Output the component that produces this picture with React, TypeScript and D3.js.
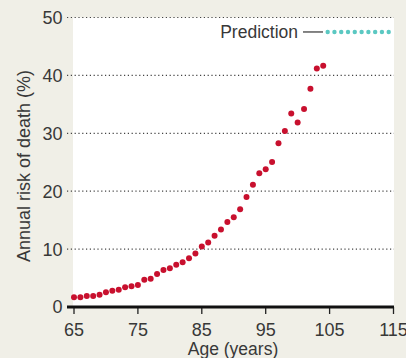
import React from "react";
import * as d3 from "d3";

const ages = [65,66,67,68,69,70,71,72,73,74,75,76,77,78,79,80,81,82,83,84,85,86,87,88,89,90,91,92,93,94,95,96,97,98,99,100,101,102,103,104];
const risk = [1.7,1.7,1.9,1.9,2.1,2.55,2.8,3.0,3.4,3.6,3.8,4.7,4.9,5.7,6.4,6.7,7.3,7.75,8.4,9.25,10.45,11.15,12.3,13.4,14.7,15.5,16.9,19.0,21.1,23.1,23.8,25.05,28.3,30.4,33.4,31.85,34.2,37.7,41.2,41.65];
const predictionAges = [104.7,105.76,106.82,107.88,108.94,110.01,111.07,112.13,113.19,114.25];
const predictionRisk = [47.5,47.5,47.5,47.5,47.5,47.5,47.5,47.5,47.5,47.5];
const xTicks = [65,75,85,95,105,115];
const yTicks = [0,10,20,30,40,50];

const W = 406, H = 358;
const font = "'Liberation Sans', Arial, sans-serif";
const textColor = "#383838";

export default function App() {
  const x = d3.scaleLinear().domain([65, 115]).range([74, 393.5]);
  const y = d3.scaleLinear().domain([0, 50]).range([307, 17.5]);
  const plotLeft = 73, plotRight = 394;
  return (
    <svg width={W} height={H} style={{ position: "absolute", left: 0, top: 0 }}>
      <rect x={0} y={0} width={W} height={H} fill="#f0efe7" />
      <rect x={plotLeft} y={y(50)} width={plotRight - plotLeft} height={y(0) - y(50)} fill="#ffffff" />
      {yTicks.filter(t => t > 0).map(t => (
        <line key={t} x1={67} x2={plotRight} y1={y(t)} y2={y(t)} stroke="#444" strokeWidth={1.2} strokeDasharray="1.2,2.6" />
      ))}
      {yTicks.map(t => (
        <text key={t} x={62.5} y={y(t)} dy="0.36em" textAnchor="end" fontFamily={font} fontSize={18} fill={textColor}>{t}</text>
      ))}
      {xTicks.map(t => (
        <g key={t}>
          <line x1={x(t)} x2={x(t)} y1={y(0)} y2={y(0) + 7} stroke="#222" strokeWidth={1.3} />
          <text x={x(t)} y={336} textAnchor="middle" fontFamily={font} fontSize={18} fill={textColor}>{t}</text>
        </g>
      ))}
      <line x1={67} x2={plotRight} y1={y(0)} y2={y(0)} stroke="#111" strokeWidth={3} />
      <text x={233} y={355} textAnchor="middle" fontFamily={font} fontSize={17.5} fill={textColor}>Age (years)</text>
      <text transform={`translate(29.5,${166}) rotate(-90)`} textAnchor="middle" fontFamily={font} fontSize={18} fill={textColor}>Annual risk of death (%)</text>
      {ages.map((a, i) => (
        <circle key={a} cx={x(a)} cy={y(risk[i])} r={3} fill="#c8102e" />
      ))}
      {predictionAges.map((a, i) => (
        <circle key={a} cx={x(a)} cy={y(predictionRisk[i])} r={2.2} fill="#5bc8c2" />
      ))}
      <line x1={303} x2={323} y1={y(47.5)} y2={y(47.5)} stroke="#333" strokeWidth={1.2} />
      <text x={298} y={y(47.5)} dy="0.36em" textAnchor="end" fontFamily={font} fontSize={17.5} fill={textColor}>Prediction</text>
    </svg>
  );
}
